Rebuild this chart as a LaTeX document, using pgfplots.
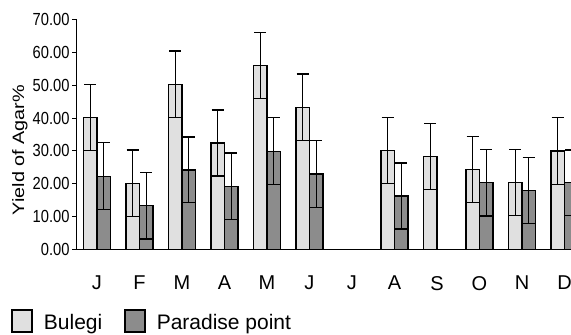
\documentclass[border=0pt]{standalone}
\usepackage{fontspec}
\setmainfont{Liberation Sans}
\usepackage{graphicx}
\usepackage{pgfplots}
\pgfplotsset{compat=1.18}
\definecolor{lightbar}{RGB}{224,224,224}
\definecolor{darkbar}{RGB}{140,140,140}
\begin{document}
\begin{tikzpicture}
\path[use as bounding box] (0pt,0pt) rectangle (571pt,-335pt);
\clip (0pt,0pt) rectangle (571pt,-335pt);
\begin{axis}[
  at={(77pt,-249.6pt)}, anchor=south west, scale only axis,
  width=510pt, height=230.3pt,
  xmin=-0.47, xmax=11.53, ymin=0, ymax=70,
  axis lines*=left,
  axis line style={line width=1pt, black},
  ybar=0pt, bar width=13.5pt,
  tick align=outside,
  /pgf/number format/assume math mode=true,
  ytick={0,10,...,70},
  yticklabel={\scalebox{0.84}[1]{\pgfmathprintnumber[fixed,fixed zerofill,precision=2]{\tick}}},
  yticklabel style={font=\fontsize{17.5}{19}\selectfont, xshift=1pt},
  ytick style={line width=1pt, black},
  major tick length=5pt,
  xtick={0,...,11},
  xticklabels={J,F,M,A,M,J,J,A,S,O,N,D},
  xtick style={draw=none},
  xticklabel style={font=\fontsize{20}{22}\selectfont, yshift=-18pt},
  minor xtick={0.5,1.5,...,10.5},
  minor x tick style={line width=1pt, black},
  minor tick length=6pt,
  ylabel={\scalebox{1.2}[1]{Yield of Agar\%}},
  ylabel style={at={(axis description cs:-0.112,0.432)}, anchor=center, font=\fontsize{16.5}{18}\selectfont},
  legend columns=2,
  legend style={at={(axis description cs:-0.129,-0.258)}, anchor=north west, draw=none, fill=none,
    font=\fontsize{21}{23}\selectfont, inner sep=0pt,
    /tikz/every odd column/.append style={column sep=9pt},
    /tikz/every even column/.append style={column sep=20pt}},
  legend image code/.code={\draw[#1, line width=1.5pt] (0pt,-9pt) rectangle (20pt,13pt);},
  error bars/y dir=both, error bars/y explicit,
  error bars/error bar style={line width=1.2pt, black},
  error bars/error mark options={rotate=90, mark size=6pt, line width=1.2pt, black},
]
\addplot[fill=lightbar, draw=black, line width=1.2pt] coordinates {
  (0,40.1) +- (0,10.0)
  (1,20.2) +- (0,10.1)
  (2,50.2) +- (0,10.15)
  (3,32.4) +- (0,10.05)
  (4,56.0) +- (0,10.1)
  (5,43.3) +- (0,10.05)
  (7,30.2) +- (0,10.05)
  (8,28.3) +- (0,10.1)
  (9,24.4) +- (0,10.1)
  (10,20.3) +- (0,10.05)
  (11,30.0) +- (0,10.1)
};
\addplot[fill=darkbar, draw=black, line width=1.2pt] coordinates {
  (0,22.3) +- (0,10.15)
  (1,13.3) +- (0,10.05)
  (2,24.2) +- (0,10.0)
  (3,19.3) +- (0,10.05)
  (4,29.9) +- (0,10.2)
  (5,23.0) +- (0,10.1)
  (7,16.3) +- (0,10.05)
  (9,20.3) +- (0,10.1)
  (10,17.9) +- (0,10.05)
  (11,20.3) +- (0,10.0)
};
\legend{Bulegi, Paradise point}
\end{axis}
\end{tikzpicture}
\end{document}
